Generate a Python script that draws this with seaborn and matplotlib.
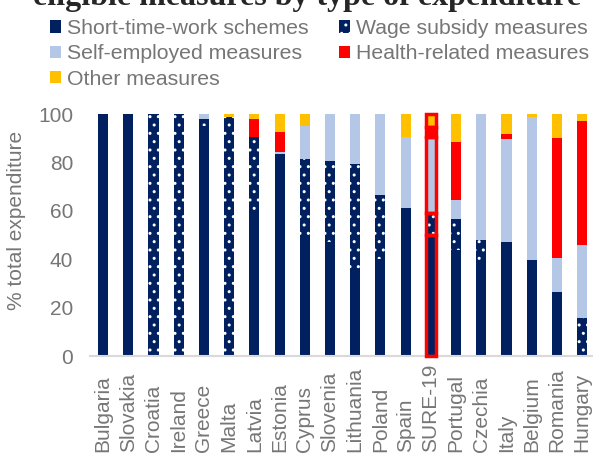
import matplotlib
matplotlib.use("Agg")
import matplotlib.pyplot as plt
import seaborn as sns
import numpy as np
import pandas as pd
from matplotlib.patches import Patch

# data (% of total expenditure)
countries = ["Bulgaria", "Slovakia", "Croatia", "Ireland", "Greece", "Malta",
             "Latvia", "Estonia", "Cyprus", "Slovenia", "Lithuania", "Poland",
             "Spain", "SURE-19", "Portugal", "Czechia", "Italy", "Belgium",
             "Romania", "Hungary"]
short_time = [100, 100, 0, 0, 95, 0, 60, 83.5, 50, 47, 35, 40, 61, 50, 44,
              38.5, 47, 39.6, 26.4, 0]
wage_subsidy = [0, 0, 100, 100, 3, 98.6, 30.4, 0, 31.3, 33.4, 44.4, 26.6, 0,
                9, 12.6, 9.6, 0, 0, 0, 15.8]
self_employed = [0, 0, 0, 0, 2, 0, 0, 1, 13.9, 19.6, 20.6, 33.4, 29.5, 31.4,
                 8, 51.9, 42.6, 59.3, 14.1, 29.9]
health = [0, 0, 0, 0, 0, 0, 7.4, 7.9, 0, 0, 0, 0, 0, 4.1, 23.7, 0, 2.3, 0,
          49.5, 51.6]
other = [0, 0, 0, 0, 0, 1.4, 2.2, 7.6, 4.8, 0, 0, 0, 9.5, 5.5, 11.7, 0, 8.1,
         1.1, 10, 2.7]
highlight = "SURE-19"

series = [
    ("Short-time-work schemes", short_time, "#002060", None),
    ("Wage subsidy measures", wage_subsidy, "#002060", ".."),
    ("Self-employed measures", self_employed, "#B4C7E7", None),
    ("Health-related measures", health, "#FF0000", None),
    ("Other measures", other, "#FFC000", None),
]

df = pd.DataFrame({"country": countries})
for name, vals, _, _ in series:
    df[name] = vals

sns.set_style("white")
plt.rcParams["font.family"] = ["Liberation Sans", "DejaVu Sans"]
plt.rcParams["hatch.linewidth"] = 1.0
grey = "#767676"

fig = plt.figure(figsize=(5.93, 4.54), dpi=100)
ax = fig.add_axes([90 / 593, 98 / 454, 503 / 593, 242 / 454])

# stacked bars, one seaborn call per expenditure type
bottom = np.zeros(len(df))
for name, vals, col, hatch in series:
    sns.barplot(data=df, x="country", y=name, bottom=bottom, color=col,
                saturation=1, width=0.4, hatch=hatch, edgecolor="white",
                linewidth=0, errorbar=None, ax=ax)
    bottom = bottom + df[name].to_numpy()

# red outline around the SURE-19 bar
i = countries.index(highlight)
base = 0
for name, vals, col, hatch in series:
    h = df[name].iloc[i]
    ax.bar(i, h, bottom=base, width=0.4, facecolor="none",
           edgecolor="#FF0000", linewidth=2.5, clip_on=False, zorder=3)
    base += h

ax.set_ylim(0, 100)
ax.set_xlim(-0.52, 19.43)
ax.set_yticks(range(0, 101, 20))
ax.set_xlabel("")
ax.set_ylabel("% total expenditure", color=grey, fontsize=15, va="center")
ax.yaxis.set_label_coords(-73 / 503, (356 - 220) / 242)

for s in ["top", "right", "left"]:
    ax.spines[s].set_visible(False)
ax.spines["bottom"].set_color("#D9D9D9")
ax.spines["bottom"].set_linewidth(1.5)

ax.tick_params(axis="y", length=0, pad=12, labelsize=15, labelcolor=grey)
ax.tick_params(axis="x", length=0, pad=69, labelsize=15, labelcolor=grey,
               labelrotation=90)
plt.setp(ax.get_xticklabels(), va="bottom")

handles = {name: Patch(facecolor=col, edgecolor="white" if hatch else col,
                       hatch=hatch, linewidth=0)
           for name, vals, col, hatch in series}
order = ["Short-time-work schemes", "Self-employed measures", "Other measures",
         "Wage subsidy measures", "Health-related measures"]
fig.legend([handles[n] for n in order], order, loc="upper left",
           bbox_to_anchor=(50 / 593, 1 - 19 / 454), ncol=2, frameon=False,
           fontsize=15.3, labelcolor=grey, handlelength=0.5, handleheight=0.5,
           handletextpad=0.3, columnspacing=1.45, labelspacing=0.3,
           borderpad=0, borderaxespad=0)

# title is cut off at the top edge in the original
fig.text(0.517, 1 - 4.5 / 454, "eligible measures by type of expenditure",
         ha="center", va="baseline", fontsize=23, fontweight="bold",
         family=["Liberation Serif", "DejaVu Serif"])

fig.savefig("out.png", dpi=100)
